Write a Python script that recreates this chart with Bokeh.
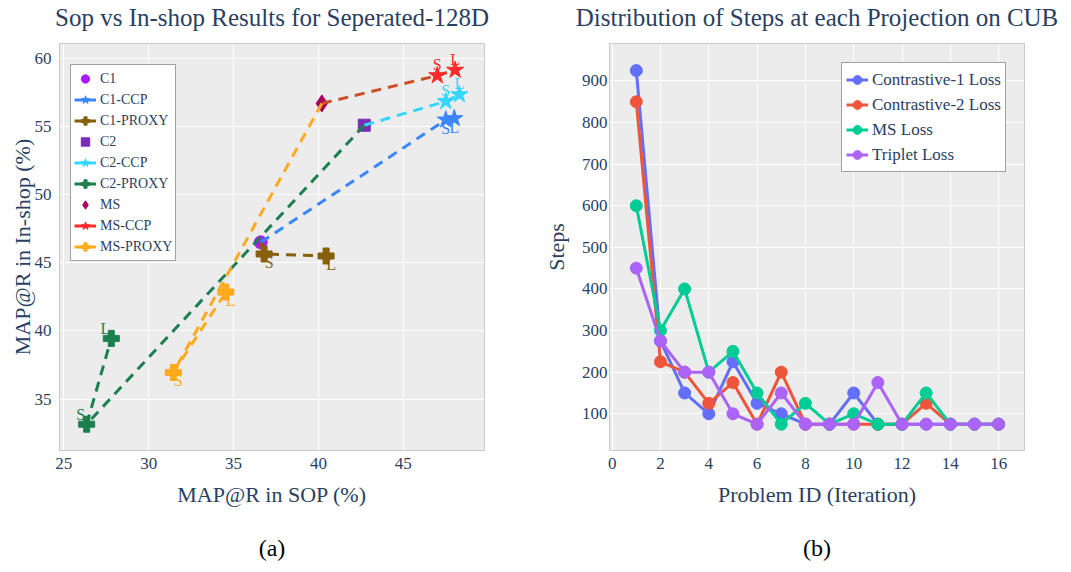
import math
from bokeh.plotting import figure
from bokeh.layouts import row
from bokeh.models import Range1d, Legend, LegendItem, Title, FixedTicker
from bokeh.embed import file_html
from bokeh.resources import INLINE
from bokeh.core.properties import value

FONT = "Liberation Serif"
TXT = "#2a3f5f"
BG = "#ececec"

# ---------------- panel (a) data ----------------
base_names = ["C1", "C2", "MS"]
base_x = [36.6, 42.7, 40.2]
base_y = [46.5, 55.1, 56.7]

point_labels = ["S", "L"]

c1_ccp_x = [47.5, 48.0]
c1_ccp_y = [55.5, 55.6]
c1_proxy_x = [36.8, 40.45]
c1_proxy_y = [45.65, 45.5]
c2_ccp_x = [47.5, 48.3]
c2_ccp_y = [56.85, 57.35]
c2_proxy_x = [26.35, 27.8]
c2_proxy_y = [33.15, 39.45]
ms_ccp_x = [47.0, 48.05]
ms_ccp_y = [58.75, 59.15]
ms_proxy_x = [31.45, 34.55]
ms_proxy_y = [36.95, 42.85]

xticks_a = [25, 30, 35, 40, 45]
yticks_a = [35, 40, 45, 50, 55, 60]

# ---------------- panel (b) data ----------------
problem_id = list(range(1, 17))
contrastive1 = [925, 275, 150, 100, 225, 125, 100, 75, 75, 150, 75, 75, 75, 75, 75, 75]
contrastive2 = [850, 225, 200, 125, 175, 75, 200, 75, 75, 75, 75, 75, 125, 75, 75, 75]
ms_loss = [600, 300, 400, 200, 250, 150, 75, 125, 75, 100, 75, 75, 150, 75, 75, 75]
triplet = [450, 275, 200, 200, 100, 75, 150, 75, 75, 75, 175, 75, 75, 75, 75, 75]
series_b_names = ["Contrastive-1 Loss", "Contrastive-2 Loss", "MS Loss", "Triplet Loss"]
xticks_b = [0, 2, 4, 6, 8, 10, 12, 14, 16]
yticks_b = [100, 200, 300, 400, 500, 600, 700, 800, 900]


def style_fig(p, xt, yt):
    p.background_fill_color = BG
    p.border_fill_color = "white"
    p.outline_line_color = "#c8c8c8"
    p.outline_line_width = 1
    p.xgrid.grid_line_color = "white"
    p.ygrid.grid_line_color = "white"
    p.xgrid.grid_line_width = 1
    p.ygrid.grid_line_width = 1
    p.xaxis.ticker = FixedTicker(ticks=xt)
    p.yaxis.ticker = FixedTicker(ticks=yt)
    for ax in (p.xaxis[0], p.yaxis[0]):
        ax.axis_line_color = None
        ax.major_tick_line_color = None
        ax.minor_tick_line_color = None
        ax.major_tick_out = 0
        ax.major_tick_in = 0
        ax.minor_tick_out = 0
        ax.minor_tick_in = 0
        ax.major_label_text_font = FONT
        ax.major_label_text_font_size = "17px"
        ax.major_label_text_color = TXT
        ax.axis_label_text_font = FONT
        ax.axis_label_text_font_size = "22px"
        ax.axis_label_text_color = TXT
        ax.axis_label_text_font_style = "normal"
    p.xaxis.major_label_standoff = 7
    p.xaxis.axis_label_standoff = 10
    p.title.text_font = FONT
    p.title.text_font_size = "25px"
    p.title.text_color = TXT
    p.title.text_font_style = "normal"
    p.title.align = "center"
    p.title.standoff = 25


# ---------------- panel (a) ----------------
pa = figure(frame_width=425, frame_height=407, output_backend="svg", toolbar_location=None,
            x_range=Range1d(24.75, 49.78), y_range=Range1d(31.22, 61.1),
            title="Sop vs In-shop Results for Seperated-128D",
            x_axis_label="MAP@R in SOP (%)", y_axis_label="MAP@R in In-shop (%)",
            min_border_left=50, min_border_right=55, min_border_top=35, min_border_bottom=114)
style_fig(pa, xticks_a, yticks_a)
pa.yaxis.major_label_standoff = 8
pa.yaxis.axis_label_standoff = -3
# small empty spacer outside the y axis title
pa.add_layout(Title(text=" ", text_font_size="1px", standoff=3), "left")

DASH = "10 7"
items_a = []


def base_marker(i, marker, color, size):
    r = pa.scatter([base_x[i]], [base_y[i]], marker=marker, size=size,
                   fill_color=color, line_color=color)
    items_a.append(LegendItem(label=value(base_names[i]), renderers=[r]))


def variant(i, name, xs, ys, color, line_color, marker, size, dx, dy, line_dash=DASH):
    lx = [base_x[i]] + xs
    ly = [base_y[i]] + ys
    pa.line(lx, ly, line_color=line_color, line_width=3, line_dash=line_dash)
    leg_line = pa.line([math.nan, math.nan], [math.nan, math.nan], line_color=color, line_width=3)
    r = pa.scatter(xs, ys, marker=marker, size=size, fill_color=color, line_color=color)
    pa.text(xs, ys, text=point_labels, text_color=color, text_font=value(FONT),
            text_font_size="16px", text_align="center", text_baseline="middle",
            x_offset=dx, y_offset=dy)
    items_a.append(LegendItem(label=value(name), renderers=[leg_line, r]))


base_marker(0, "circle", "#aa1cff", 13)
variant(0, "C1-CCP", c1_ccp_x, c1_ccp_y, "#3a86ff", "#3a86ff", "star", 18, 0, 9)
variant(0, "C1-PROXY", c1_proxy_x, c1_proxy_y, "#88600c", "#88600c", "plus", 16, 5, 9)
base_marker(1, "square", "#7a2bb8", 12)
variant(1, "C2-CCP", c2_ccp_x, c2_ccp_y, "#33d6ff", "#33d6ff", "star", 18, 0, -11)
variant(1, "C2-PROXY", c2_proxy_x, c2_proxy_y, "#1c7f4e", "#1c7f4e", "plus", 16, -6, -10)
base_marker(2, "diamond", "#a8005c", 17)
variant(2, "MS-CCP", ms_ccp_x, ms_ccp_y, "#ff2a2a", "#cc4e26", "star", 18, 0, -11)
variant(2, "MS-PROXY", ms_proxy_x, ms_proxy_y, "#ffaa1c", "#ffaa1c", "plus", 16, 5, 8)

leg_a = Legend(items=items_a, location=(11, 189), orientation="vertical",
               glyph_width=22, glyph_height=21, label_height=21, spacing=0,
               padding=3, margin=0, label_standoff=4,
               label_text_font=FONT, label_text_font_size="14px", label_text_color=TXT,
               border_line_color="#444444", border_line_width=1.5,
               background_fill_color="white", background_fill_alpha=1)
pa.add_layout(leg_a, "center")
pa.add_layout(Title(text="(a)", align="center", text_font=FONT, text_font_size="24px",
                    text_color="black", text_font_style="normal", standoff=47), "below")

# ---------------- panel (b) ----------------
pb = figure(frame_width=415, frame_height=407, output_backend="svg", toolbar_location=None,
            x_range=Range1d(-0.11, 17.07), y_range=Range1d(11.7, 990),
            title="Distribution of Steps at each Projection on CUB",
            x_axis_label="Problem ID (Iteration)", y_axis_label="Steps",
            min_border_left=70, min_border_right=40, min_border_top=35, min_border_bottom=114)
style_fig(pb, xticks_b, yticks_b)
pb.yaxis.major_label_standoff = 2
pb.yaxis.axis_label_standoff = 10

colors_b = ["#636efa", "#ef553b", "#00cc96", "#ab63fa"]
items_b = []
for name, ys, c in zip(series_b_names, [contrastive1, contrastive2, ms_loss, triplet], colors_b):
    rl = pb.line(problem_id, ys, line_color=c, line_width=3)
    rs = pb.scatter(problem_id, ys, marker="circle", size=12, fill_color=c, line_color=c)
    items_b.append(LegendItem(label=value(name), renderers=[rl, rs]))

leg_b = Legend(items=items_b, location=(232, 278), orientation="vertical",
               glyph_width=22, glyph_height=25, label_height=25, spacing=0,
               padding=4, margin=0, label_standoff=4,
               label_text_font=FONT, label_text_font_size="17px", label_text_color=TXT,
               border_line_color="#444444", border_line_width=1.5,
               background_fill_color="white", background_fill_alpha=1)
pb.add_layout(leg_b, "center")
pb.add_layout(Title(text="(b)", align="center", text_font=FONT, text_font_size="24px",
                    text_color="black", text_font_style="normal", standoff=47), "below")

layout = row(pa, pb, margin=(-11, 0, 0, 0))
open("out.html", "w").write(file_html(layout, INLINE))
